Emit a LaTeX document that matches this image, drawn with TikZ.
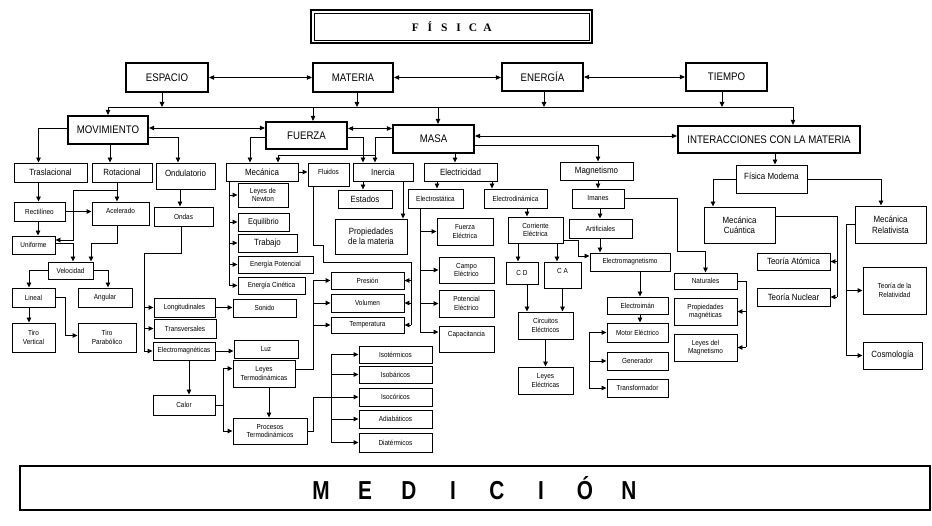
\documentclass[tikz,border=0pt]{standalone}
\usepackage{fontspec}
\setmainfont{Liberation Sans}[FakeStretch=0.88]
\newfontfamily\tifont{Liberation Serif}
\newfontfamily\medfont{Liberation Sans}[FakeStretch=0.8]
\usetikzlibrary{arrows.meta,calc}
\newcommand\mybx[7]{\node[#6,minimum width={#4-#2},minimum height={#5-#3}] (#1) at ({(#2+#4)/2},{(#3+#5)/2}) {#7};}
\newcommand\lsp[2]{\makebox[#1]{#2}}
\tikzset{
  box/.style={draw, line width=0.9pt, inner sep=1pt, align=center, fill=white},
  big/.style={box, line width=2.2pt, font=\fontsize{11}{12}\selectfont},
  mid/.style={box, font=\fontsize{9}{10.5}\selectfont},
  sm/.style={box, font=\fontsize{7.3}{8.6}\selectfont},
  ttl/.style={draw, line width=2.2pt, inner sep=0pt, fill=white, font=\tifont\bfseries\fontsize{11.5}{12}\selectfont},
  medb/.style={draw, line width=1.5pt, inner sep=0pt, fill=white, font=\medfont\bfseries\fontsize{26}{26}\selectfont},
  ln/.style={line width=0.9pt},
  arr/.style={line width=0.9pt, -{Triangle[length=5pt,width=4.5pt]}},
  biarr/.style={line width=0.9pt, {Triangle[length=5pt,width=4.5pt]}-{Triangle[length=5pt,width=4.5pt]}},
}
\begin{document}
\begin{tikzpicture}[x=1pt,y=-1pt]
\path[use as bounding box, fill=white] (0,0) rectangle (932,526);
% title
\mybx{FIS}{311}{10}{592}{43}{ttl}{\lsp{14.4pt}{F}\lsp{14.4pt}{Í}\lsp{14.4pt}{S}\lsp{14.4pt}{I}\lsp{14.4pt}{C}\lsp{14.4pt}{A}}
\draw[line width=0.7pt] ([shift={(4,4)}]FIS.north west) rectangle ([shift={(-4,-4)}]FIS.south east);
% level 1
\mybx{ESP}{126}{63}{208}{92}{big}{ESPACIO}
\mybx{MAT}{313}{63}{393}{92}{big}{MATERIA}
\mybx{ENE}{502}{63}{583}{91}{big}{ENERGÍA}
\mybx{TIE}{686}{63}{767}{91}{big}{TIEMPO}
% level 2
\mybx{MOV}{68}{116}{148}{144}{big}{MOVIMIENTO}
\mybx{FUE}{266}{122}{347}{149}{big}{FUERZA}
\mybx{MAS}{393}{125}{474}{153}{big}{MASA}
\mybx{INT}{678}{126}{860}{153}{big}{INTERACCIONES CON LA MATERIA}
% movimiento
\mybx{TRAS}{14}{163}{87}{182}{mid}{Traslacional}
\mybx{ROT}{92}{163}{152}{182}{mid}{Rotacional}
\mybx{OND}{156}{163}{215}{189}{mid}{\raisebox{6pt}{Ondulatorio}}
\mybx{REC}{14}{202}{65}{221}{sm}{Rectilíneo}
\mybx{ACE}{92}{202}{149}{225}{sm}{\raisebox{5pt}{Acelerado}}
\mybx{UNI}{12}{236}{55}{254}{sm}{Uniforme}
\mybx{VEL}{48}{262}{93}{279}{sm}{Velocidad}
\mybx{LIN}{12}{288}{55}{307}{sm}{Lineal}
\mybx{ANG}{78}{288}{132}{307}{sm}{Angular}
\mybx{TV}{12}{323}{55}{352}{sm}{Tiro\\Vertical}
\mybx{TP}{78}{323}{136}{352}{sm}{Tiro\\Parabólico}
\mybx{ONDAS}{154}{207}{213}{226}{sm}{Ondas}
\mybx{LON}{154}{298}{215}{317}{sm}{Longitudinales}
\mybx{TRANSV}{154}{319}{216}{338}{sm}{Transversales}
\mybx{ELM}{153}{342}{215}{360}{sm}{Electromagnéticas}
\mybx{SON}{233}{299}{296}{317}{sm}{Sonido}
\mybx{LUZ}{234}{340}{298}{358}{sm}{Luz}
\mybx{CAL}{153}{395}{215}{415}{sm}{Calor}
\mybx{LT}{233}{360}{295}{387}{sm}{Leyes\\Termodinámicas}
\mybx{PT}{233}{418}{307}{444}{sm}{Procesos\\Termodinámicos}
% fuerza
\mybx{MEC}{226}{163}{298}{181}{mid}{Mecánica}
\mybx{FLU}{308}{163}{349}{186}{sm}{\raisebox{5pt}{Fluidos}}
\mybx{LN}{238}{183}{288}{207}{sm}{Leyes de\\Newton}
\mybx{EQ}{238}{213}{289}{231}{sm}{\fontsize{8.5}{9}\selectfont Equilibrio}
\mybx{TRAB}{238}{234}{297}{252}{mid}{Trabajo}
\mybx{EP}{238}{256}{313}{273}{sm}{Energía Potencial}
\mybx{EC}{238}{277}{305}{294}{sm}{Energía Cinética}
\mybx{PRE}{331}{272}{404}{289}{sm}{Presión}
\mybx{VOL}{331}{294}{404}{312}{sm}{Volumen}
\mybx{TEM}{331}{317}{404}{333}{sm}{Temperatura}
\mybx{ISOT}{359}{346}{432}{363}{sm}{Isotérmicos}
\mybx{ISOB}{359}{366}{432}{383}{sm}{Isobáricos}
\mybx{ISOC}{359}{388}{432}{406}{sm}{Isocóricos}
\mybx{ADI}{359}{410}{432}{428}{sm}{Adiabáticos}
\mybx{DIA}{359}{433}{432}{452}{sm}{Diatérmicos}
% masa
\mybx{INE}{353}{163}{413}{181}{mid}{Inercia}
\mybx{EST}{338}{190}{392}{208}{mid}{Estados}
\mybx{PROP}{335}{219}{407}{254}{mid}{Propiedades\\de la materia}
\mybx{ELE}{424}{163}{497}{181}{mid}{Electricidad}
\mybx{ESTAT}{408}{189}{463}{208}{sm}{Electrostática}
\mybx{EDIN}{484}{189}{547}{208}{sm}{Electrodinámica}
\mybx{FE}{437}{218}{493}{245}{sm}{Fuerza\\Eléctrica}
\mybx{CE}{439}{257}{494}{283}{sm}{Campo\\Eléctrico}
\mybx{PE}{439}{290}{494}{317}{sm}{Potencial\\Eléctrico}
\mybx{CAP}{439}{326}{494}{352}{sm}{\raisebox{10pt}{Capacitancia}}
\mybx{CORR}{508}{217}{563}{243}{sm}{Corriente\\Eléctrica}
\mybx{CD}{506}{262}{538}{284}{sm}{C D}
\mybx{CA}{544}{262}{581}{288}{sm}{\raisebox{9pt}{C A}}
\mybx{CIR}{518}{312}{573}{339}{sm}{Circuitos\\Eléctricos}
\mybx{LE}{518}{367}{573}{394}{sm}{Leyes\\Eléctricas}
\mybx{MAG}{560}{162}{633}{180}{mid}{Magnetismo}
\mybx{IMA}{572}{189}{624}{208}{sm}{Imanes}
\mybx{ART}{569}{219}{632}{238}{sm}{Artificiales}
\mybx{EMAG}{590}{253}{670}{271}{sm}{Electromagnetismo}
\mybx{EIM}{607}{297}{668}{314}{sm}{Electroimán}
\mybx{MOT}{607}{323}{668}{342}{sm}{Motor Eléctrico}
\mybx{GEN}{607}{352}{668}{370}{sm}{Generador}
\mybx{TRF}{607}{379}{668}{397}{sm}{Transformador}
\mybx{NAT}{674}{273}{737}{289}{sm}{Naturales}
\mybx{PM}{674}{298}{737}{325}{sm}{Propiedades\\magnéticas}
\mybx{LM}{674}{334}{737}{361}{sm}{Leyes del\\Magnetismo}
% interacciones
\mybx{FM}{736}{165}{807}{193}{mid}{\raisebox{6pt}{Física Moderna}}
\mybx{MQ}{704}{207}{775}{243}{mid}{Mecánica\\Cuántica}
\mybx{MR}{855}{206}{926}{243}{mid}{Mecánica\\Relativista}
\mybx{TA}{757}{253}{830}{270}{mid}{Teoría Atómica}
\mybx{TN}{757}{288}{830}{306}{mid}{Teoría Nuclear}
\mybx{TR}{863}{267}{926}{314}{sm}{Teoría de la\\Relatividad}
\mybx{COS}{863}{342}{922}{369}{mid}{Cosmología}
% medicion
\mybx{MED}{20}{466}{930}{510}{medb}{\lsp{44pt}{M}\lsp{44pt}{E}\lsp{44pt}{D}\lsp{44pt}{I}\lsp{44pt}{C}\lsp{44pt}{I}\lsp{44pt}{Ó}\lsp{44pt}{N}}

% ---------- connectors ----------
\draw[biarr] (ESP.east) -- (ESP.east -| MAT.west);
\draw[biarr] (MAT.east) -- (MAT.east -| ENE.west);
\draw[biarr] (ENE.east) -- (ENE.east -| TIE.west);
\coordinate (busL) at (108,107);
\coordinate (busR) at (793,107);
\draw[ln] (busL) -- (busR);
\draw[arr] ([xshift=-5pt]ESP.south) -- ([xshift=-5pt]ESP.south |- busL);
\draw[arr] ([xshift=4pt]MAT.south) -- ([xshift=4pt]MAT.south |- busL);
\draw[arr] ([xshift=1.5pt]ENE.south) -- ([xshift=1.5pt]ENE.south |- busL);
\draw[arr] ([xshift=-4.5pt]TIE.south) -- ([xshift=-4.5pt]TIE.south |- busL);
\draw[arr] (busL) -- (busL |- MOV.north);
\draw[arr] ([xshift=6.5pt]FUE.north |- busL) -- ([xshift=6.5pt]FUE.north);
\draw[arr] ([xshift=4.5pt]MAS.north |- busL) -- ([xshift=4.5pt]MAS.north);
\draw[arr] (busR) -- (busR |- INT.north);
\draw[biarr] ([yshift=2pt]MOV.east) -- ([yshift=2pt]MOV.east -| FUE.west);
\draw[biarr] ([yshift=7pt]FUE.east) -- ([yshift=7pt]FUE.east -| MAS.west);
\draw[biarr] ([yshift=3pt]MAS.east) -- ([yshift=3pt]MAS.east -| INT.west);
% movimiento
\draw[arr] ([yshift=2pt]MOV.west) -| ([xshift=-12pt]TRAS.north);
\draw[arr] ([xshift=2pt]MOV.south) -- ([xshift=2pt]MOV.south |- ROT.north);
\draw[arr] ([yshift=-7pt]MOV.east) -| ([xshift=-7.5pt]OND.north);
\draw[arr] ([xshift=-12pt]TRAS.south) -- ([xshift=-12pt]TRAS.south |- REC.north);
\draw[arr] (REC.east) -- (REC.east -| ACE.west);
\draw[arr] ([xshift=-5pt]ROT.south) -- ([xshift=-5pt]ROT.south |- ACE.north);
\coordinate (r1) at (117,190);
\coordinate (r2) at (73,240);
\draw[arr] (r1) -| (r2) -- (r2 -| UNI.east);
\draw[arr] ([xshift=-1.5pt]REC.south) -- ([xshift=-1.5pt]REC.south |- UNI.north);
\draw[arr] ([yshift=2pt]UNI.east) -| ([xshift=2.5pt]VEL.north);
\coordinate (a1) at (91,243);
\draw[arr] ([xshift=-3.5pt]ACE.south) |- (a1) -- (a1 |- VEL.north);
\draw[arr] (VEL.west) -| ([xshift=-4.5pt]LIN.north);
\draw[arr] (VEL.east) -| ([xshift=3pt]ANG.north);
\draw[arr] ([xshift=-4.5pt]LIN.south) -- ([xshift=-4.5pt]LIN.south |- TV.north);
\coordinate (l1) at (65,297.5);
\draw[arr] (LIN.east) -- (l1) |- ([yshift=2pt]TP.west);
% ondulatorio
\draw[arr] ([xshift=-5.5pt]OND.south) -- ([xshift=-5.5pt]OND.south |- ONDAS.north);
\coordinate (o1) at (144,253);
\draw[ln] ([xshift=-2.5pt]ONDAS.south) |- (o1) -- (o1 |- ELM.west);
\draw[arr] (o1 |- LON.west) -- (LON.west);
\draw[arr] (o1 |- TRANSV.west) -- (TRANSV.west);
\draw[arr] (o1 |- ELM.west) -- (ELM.west);
\draw[arr] (LON.east) -- (LON.east -| SON.west);
\draw[arr] (ELM.east) -- (ELM.east -| LUZ.west);
\draw[arr] ([xshift=5pt]ELM.south) -- ([xshift=5pt]ELM.south |- CAL.north);
\coordinate (c2) at (223,405);
\draw[ln] (CAL.east) -- (c2);
\draw[arr] (c2) |- ([yshift=5pt]LT.west);
\draw[arr] (c2) |- (PT.west);
\draw[arr] ([xshift=5pt]LT.south) -- ([xshift=5pt]LT.south |- PT.north);
\coordinate (v1) at (313,369);
\draw[ln] ([yshift=4.5pt]LT.east) -- (v1) -- (v1 |- PRE.west);
\draw[arr] (v1 |- PRE.west) -- (PRE.west);
\draw[arr] (v1 |- VOL.west) -- (VOL.west);
\draw[arr] (v1 |- TEM.west) -- (TEM.west);
\coordinate (p1) at (313,431);
\draw[arr] (PT.east) -- (p1) |- (ISOC.west);
\coordinate (p2) at (331,354.5);
\draw[ln] (p2) -- (p2 |- DIA.west);
\draw[arr] (p2 |- ISOT.west) -- (ISOT.west);
\draw[arr] (p2 |- ISOB.west) -- (ISOB.west);
\draw[arr] (p2 |- ADI.west) -- (ADI.west);
\draw[arr] (p2 |- DIA.west) -- (DIA.west);
% fuerza
\draw[arr] ([yshift=-1.5pt]FUE.west) -| ([xshift=-12pt]MEC.north);
\draw[arr] ([yshift=-1.5pt]FUE.east) -| ([xshift=-20pt]INE.north);
\draw[arr] ([yshift=2pt]MAS.west) -| ([xshift=-8pt]INE.north);
\coordinate (m1) at (375,155);
\draw[arr] (m1) -| ([xshift=16pt]MEC.north);
\draw[arr] (MEC.east) -- (MEC.east -| FLU.west);
\coordinate (mv) at (229,181);
\draw[ln] (mv) -- (mv |- EC.west);
\draw[arr] (mv |- LN.west) -- (LN.west);
\draw[arr] (mv |- EQ.west) -- (EQ.west);
\draw[arr] (mv |- TRAB.west) -- (TRAB.west);
\draw[arr] (mv |- EP.west) -- (EP.west);
\draw[arr] (mv |- EC.west) -- (EC.west);
\coordinate (f1) at (323,245);
\coordinate (f2) at (411,262);
\draw[ln] ([xshift=-15.5pt]FLU.south) |- (f1) |- (f2) -- (f2 |- TEM.east);
\draw[arr] (f2 |- PRE.east) -- (PRE.east);
\draw[arr] (f2 |- VOL.east) -- (VOL.east);
\draw[arr] (f2 |- TEM.east) -- (TEM.east);
% masa
\draw[arr] ([xshift=-20pt]INE.south) -- ([xshift=-20pt]INE.south |- EST.north);
\draw[arr] ([xshift=20pt]INE.south) -- ([xshift=20pt]INE.south |- PROP.north);
\draw[arr] ([xshift=21.5pt]MAS.south) -- ([xshift=21.5pt]MAS.south |- ELE.north);
\draw[arr] ([xshift=-23.5pt]ELE.south) -- ([xshift=-23.5pt]ELE.south |- ESTAT.north);
\draw[arr] ([xshift=31.5pt]ELE.south) -- ([xshift=31.5pt]ELE.south |- EDIN.north);
\coordinate (e1) at (420,208);
\coordinate (e2) at (420,332);
\draw[ln] (e1) -- (e2);
\draw[arr] (e1 |- FE.west) -- (FE.west);
\draw[arr] (e1 |- CE.west) -- (CE.west);
\draw[arr] (e1 |- PE.west) -- (PE.west);
\draw[arr] (e2) -- (e2 -| CAP.west);
\draw[arr] ([xshift=11.5pt]EDIN.south) -- ([xshift=11.5pt]EDIN.south |- CORR.north);
\draw[arr] ([xshift=-17.5pt]CORR.south) -- ([xshift=-17.5pt]CORR.south |- CD.north);
\draw[arr] ([xshift=21.5pt]CORR.south) -- ([xshift=21.5pt]CORR.south |- CA.north);
\coordinate (k1) at (578,240);
\draw[arr] ([yshift=-10pt]CORR.east) -- (k1) |- ([yshift=6pt]EMAG.west);
\draw[arr] ([xshift=5pt]CD.south) -- ([xshift=5pt]CD.south |- CIR.north);
\draw[arr] (CA.south) -- (CA.south |- CIR.north);
\draw[arr] (CIR.south) -- (CIR.south |- LE.north);
\draw[arr] ([yshift=-6pt]MAS.east) -| ([xshift=1.5pt]MAG.north);
\draw[arr] ([xshift=1.5pt]MAG.south) -- ([xshift=1.5pt]MAG.south |- IMA.north);
\draw[arr] ([xshift=2pt]IMA.south) -- ([xshift=2pt]IMA.south |- ART.north);
\draw[arr] ([xshift=-0.5pt]ART.south) -- ([xshift=-0.5pt]ART.south |- EMAG.north);
\coordinate (i1) at (677,251);
\draw[arr] (IMA.east) -| (i1) -| (NAT.north);
\coordinate (n1) at (746,281);
\draw[ln] (NAT.east) -- (n1) -- (n1 |- LM.east);
\draw[arr] (n1 |- PM.east) -- (PM.east);
\draw[arr] (n1 |- LM.east) -- (LM.east);
\draw[arr] ([xshift=10pt]EMAG.south) -- ([xshift=10pt]EMAG.south |- EIM.north);
\draw[arr] ([xshift=2.5pt]EIM.south) -- ([xshift=2.5pt]EIM.south |- MOT.north);
\coordinate (b1) at (589,332.5);
\draw[ln] (b1) -- (b1 |- TRF.west);
\draw[arr] (b1 |- MOT.west) -- (MOT.west);
\draw[arr] (b1 |- GEN.west) -- (GEN.west);
\draw[arr] (b1 |- TRF.west) -- (TRF.west);
% interacciones
\draw[arr] ([xshift=6pt]INT.south) -- ([xshift=6pt]INT.south |- FM.north);
\draw[arr] (FM.west) -| ([xshift=-26.5pt]MQ.north);
\draw[arr] (FM.east) -| ([xshift=-9.5pt]MR.north);
\coordinate (q1) at (837,216);
\draw[ln] ([yshift=9pt]MQ.east) -- (q1) -- (q1 |- TN.east);
\draw[arr] (q1 |- TA.east) -- (TA.east);
\draw[arr] (q1 |- TN.east) -- (TN.east);
\coordinate (q2) at (846,224.5);
\draw[ln] (MR.west) -- (q2) -- (q2 |- COS.west);
\draw[arr] (q2 |- TR.west) -- (TR.west);
\draw[arr] (q2 |- COS.west) -- (COS.west);
\end{tikzpicture}
\end{document}
